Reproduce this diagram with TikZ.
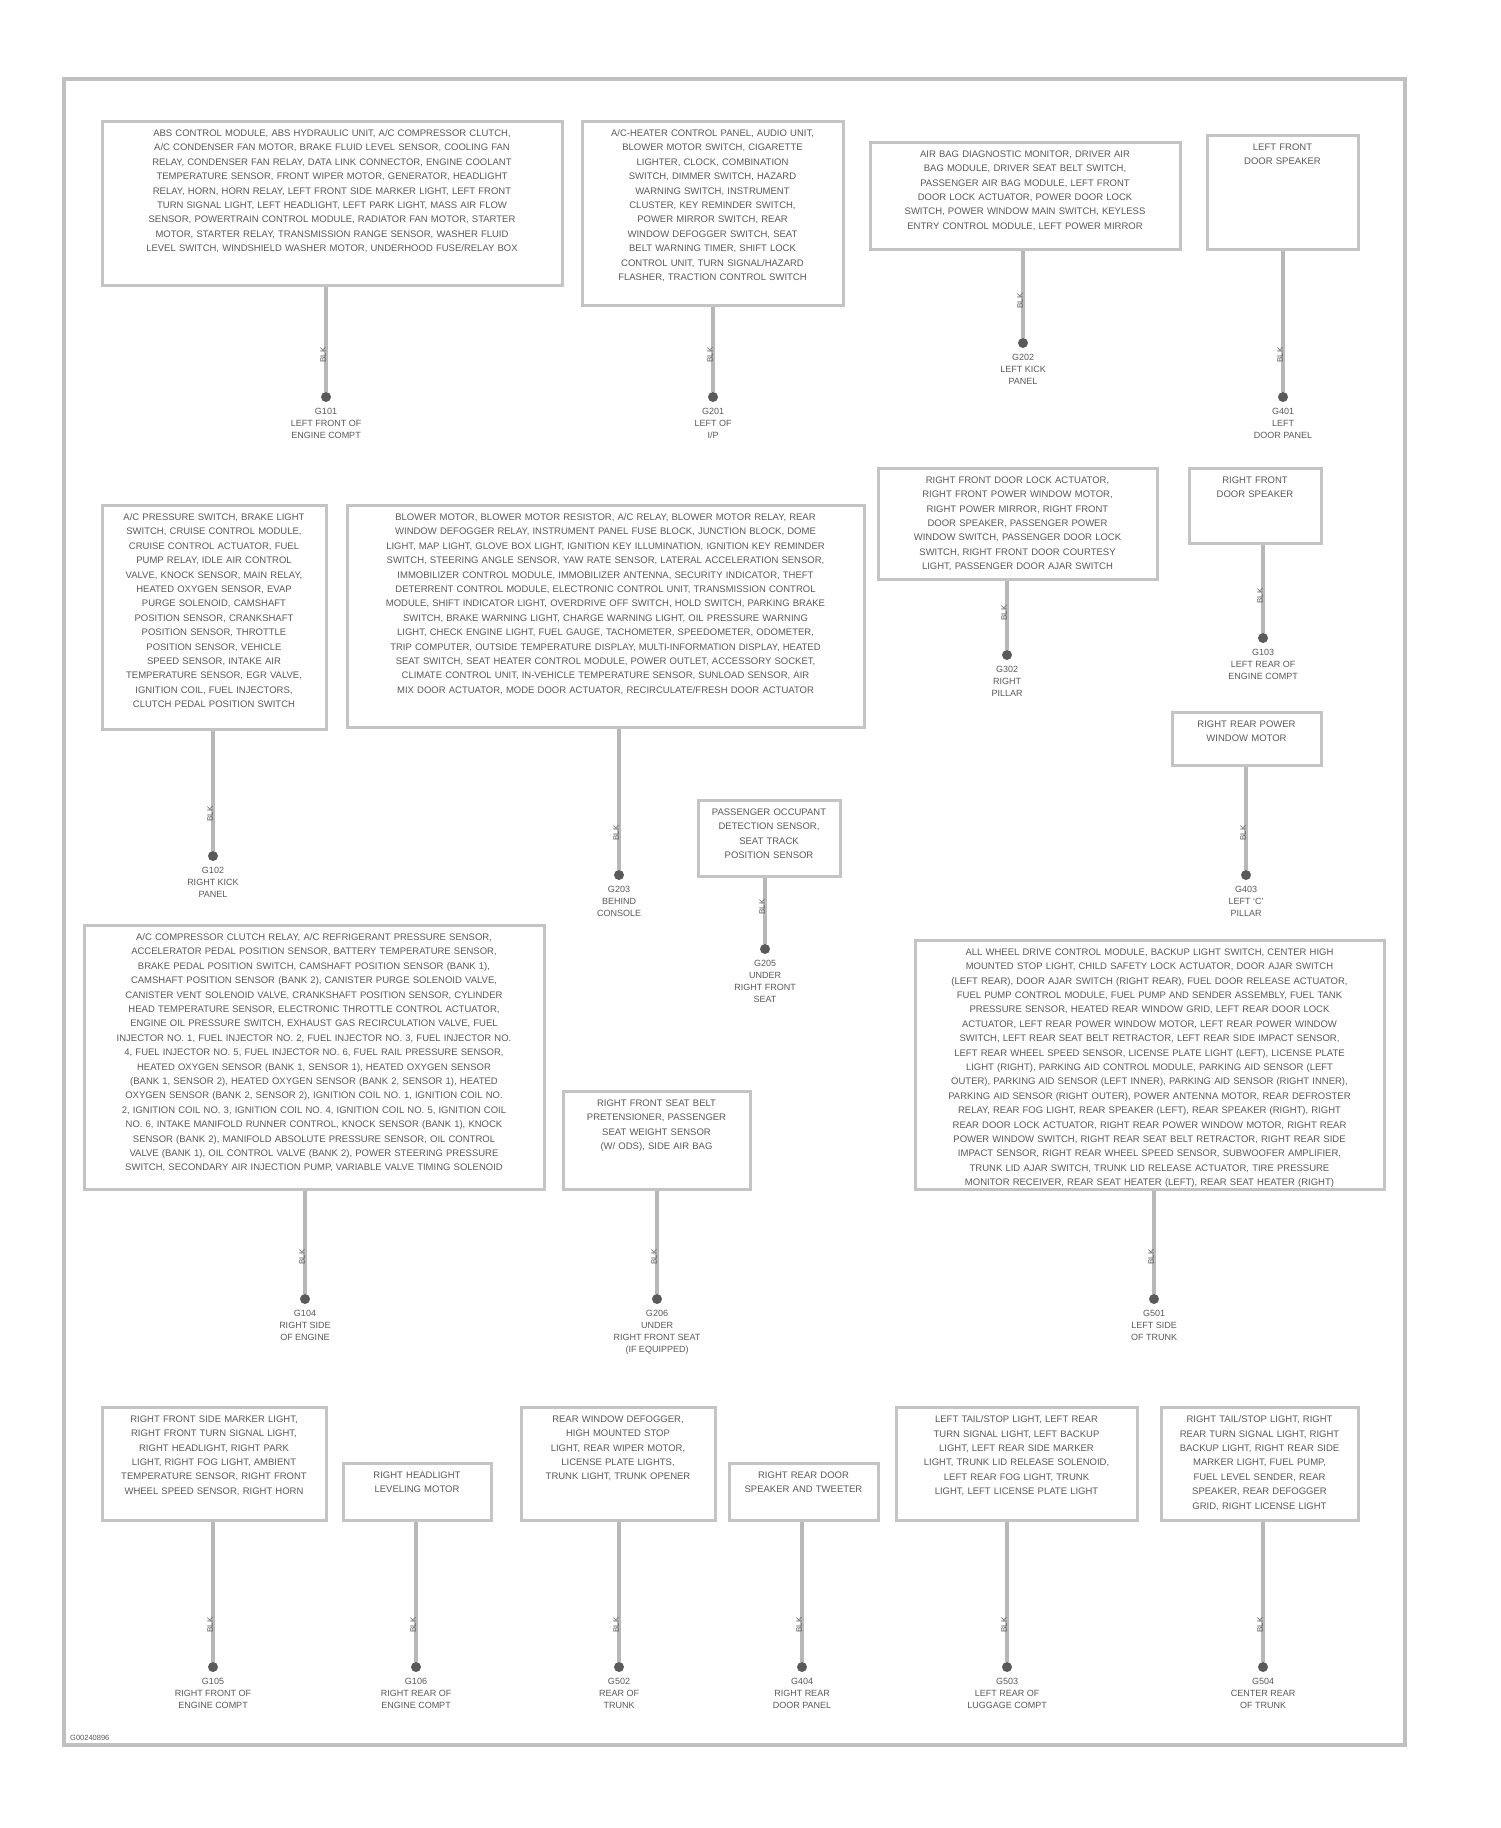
\documentclass[tikz,border=0pt]{standalone}
\usepackage{fontspec}
\setmainfont{Liberation Sans}
\definecolor{boxc}{HTML}{C4C4C4}
\definecolor{txtc}{HTML}{5A5A5A}
\definecolor{wirec}{HTML}{B8B8B8}
\definecolor{dotc}{HTML}{5A5A5A}
\definecolor{framec}{HTML}{C0C0C0}
\tikzset{
  gbox/.style={draw=boxc, line width=3pt, rectangle, inner sep=0pt},
  gtext/.style={anchor=north, align=center, text=txtc, inner sep=0pt, font={\fontsize{9.5}{14.4}\selectfont\hyphenpenalty=10000\exhyphenpenalty=10000}},
  gdot/.style={circle, fill=dotc, draw=none, minimum size=10pt, inner sep=0pt},
  gwire/.style={draw=wirec, line width=3.5pt},
  glabel/.style={anchor=north, align=center, text=txtc, inner sep=0pt, font={\fontsize{9}{11.8}\selectfont}},
  gwlabel/.style={rotate=90, anchor=south, text=txtc, inner sep=1pt, font={\fontsize{8}{9}\selectfont}},
}
\newcommand{\gbox}[7]{%
  \node[gbox, minimum width={(#3-#2)*1pt}, minimum height={(#5-#4)*1pt}] (#1) at ({(#2+#3)/2},{(#4+#5)/2}) {};
  \node[gtext, text width=#6pt] (#1t) at ([yshift=-10pt]#1.north) {#7};}
\newcommand{\gwire}[4]{%
  \node[gdot] (#1d) at (#2,#3) {};
  \draw[gwire] (#1d |- #1.south) -- (#1d);
  \node[gwlabel] (#1w) at (#2+1,#3-42) {BLK};
  \node[glabel] (#1l) at ([yshift=-6pt]#1d.south) {#4};}
\begin{document}
\begin{tikzpicture}[x=1pt,y=-1pt]
\useasboundingbox (0,0) rectangle (1500,1828);
\fill[white] (0,0) rectangle (1500,1828);
\node[draw=framec, line width=4pt, minimum width=1341pt, minimum height=1666pt, inner sep=0pt] (frame) at (734.5,912) {};
\node[anchor=south west, text=txtc, inner sep=0pt, font={\fontsize{7.5}{8}\selectfont}] (code) at ([xshift=8pt,yshift=6pt]frame.south west) {G00240896};

% Row 1
\gbox{b1}{102}{562}{121}{285}{396}{ABS CONTROL MODULE, ABS HYDRAULIC UNIT, A/C COMPRESSOR CLUTCH, A/C CONDENSER FAN MOTOR, BRAKE FLUID LEVEL SENSOR, COOLING FAN RELAY, CONDENSER FAN RELAY, DATA LINK CONNECTOR, ENGINE COOLANT TEMPERATURE SENSOR, FRONT WIPER MOTOR, GENERATOR, HEADLIGHT RELAY, HORN, HORN RELAY, LEFT FRONT SIDE MARKER LIGHT, LEFT FRONT TURN SIGNAL LIGHT, LEFT HEADLIGHT, LEFT PARK LIGHT, MASS AIR FLOW SENSOR, POWERTRAIN CONTROL MODULE, RADIATOR FAN MOTOR, STARTER MOTOR, STARTER RELAY, TRANSMISSION RANGE SENSOR, WASHER FLUID LEVEL SWITCH, WINDSHIELD WASHER MOTOR, UNDERHOOD FUSE/RELAY BOX}
\gwire{b1}{326}{397}{G101\\LEFT FRONT OF\\ENGINE COMPT}
\gbox{b2}{582}{843}{121}{305}{207}{A/C-HEATER CONTROL PANEL, AUDIO UNIT, BLOWER MOTOR SWITCH, CIGARETTE LIGHTER, CLOCK, COMBINATION SWITCH, DIMMER SWITCH, HAZARD WARNING SWITCH, INSTRUMENT CLUSTER, KEY REMINDER SWITCH, POWER MIRROR SWITCH, REAR WINDOW DEFOGGER SWITCH, SEAT BELT WARNING TIMER, SHIFT LOCK CONTROL UNIT, TURN SIGNAL/HAZARD FLASHER, TRACTION CONTROL SWITCH}
\gwire{b2}{713}{397}{G201\\LEFT OF\\I/P}
\gbox{b3}{870}{1180}{142}{249}{261}{AIR BAG DIAGNOSTIC MONITOR, DRIVER AIR BAG MODULE, DRIVER SEAT BELT SWITCH, PASSENGER AIR BAG MODULE, LEFT FRONT DOOR LOCK ACTUATOR, POWER DOOR LOCK SWITCH, POWER WINDOW MAIN SWITCH, KEYLESS ENTRY CONTROL MODULE, LEFT POWER MIRROR}
\gwire{b3}{1023}{343}{G202\\LEFT KICK\\PANEL}
\gbox{b4}{1207}{1358}{135}{249}{95}{LEFT FRONT DOOR SPEAKER}
\gwire{b4}{1283}{397}{G401\\LEFT\\DOOR PANEL}

% Row 2
\gbox{b5}{102}{326}{505}{729}{183}{A/C PRESSURE SWITCH, BRAKE LIGHT SWITCH, CRUISE CONTROL MODULE, CRUISE CONTROL ACTUATOR, FUEL PUMP RELAY, IDLE AIR CONTROL VALVE, KNOCK SENSOR, MAIN RELAY, HEATED OXYGEN SENSOR, EVAP PURGE SOLENOID, CAMSHAFT POSITION SENSOR, CRANKSHAFT POSITION SENSOR, THROTTLE POSITION SENSOR, VEHICLE SPEED SENSOR, INTAKE AIR TEMPERATURE SENSOR, EGR VALVE, IGNITION COIL, FUEL INJECTORS, CLUTCH PEDAL POSITION SWITCH}
\gwire{b5}{213}{856}{G102\\RIGHT KICK\\PANEL}
\gbox{b6}{347}{864}{505}{727}{465}{BLOWER MOTOR, BLOWER MOTOR RESISTOR, A/C RELAY, BLOWER MOTOR RELAY, REAR WINDOW DEFOGGER RELAY, INSTRUMENT PANEL FUSE BLOCK, JUNCTION BLOCK, DOME LIGHT, MAP LIGHT, GLOVE BOX LIGHT, IGNITION KEY ILLUMINATION, IGNITION KEY REMINDER SWITCH, STEERING ANGLE SENSOR, YAW RATE SENSOR, LATERAL ACCELERATION SENSOR, IMMOBILIZER CONTROL MODULE, IMMOBILIZER ANTENNA, SECURITY INDICATOR, THEFT DETERRENT CONTROL MODULE, ELECTRONIC CONTROL UNIT, TRANSMISSION CONTROL MODULE, SHIFT INDICATOR LIGHT, OVERDRIVE OFF SWITCH, HOLD SWITCH, PARKING BRAKE SWITCH, BRAKE WARNING LIGHT, CHARGE WARNING LIGHT, OIL PRESSURE WARNING LIGHT, CHECK ENGINE LIGHT, FUEL GAUGE, TACHOMETER, SPEEDOMETER, ODOMETER, TRIP COMPUTER, OUTSIDE TEMPERATURE DISPLAY, MULTI-INFORMATION DISPLAY, HEATED SEAT SWITCH, SEAT HEATER CONTROL MODULE, POWER OUTLET, ACCESSORY SOCKET, CLIMATE CONTROL UNIT, IN-VEHICLE TEMPERATURE SENSOR, SUNLOAD SENSOR, AIR MIX DOOR ACTUATOR, MODE DOOR ACTUATOR, RECIRCULATE/FRESH DOOR ACTUATOR}
\gwire{b6}{619}{875}{G203\\BEHIND\\CONSOLE}
\gbox{b7}{878}{1157}{468}{579}{233}{RIGHT FRONT DOOR LOCK ACTUATOR, RIGHT FRONT POWER WINDOW MOTOR, RIGHT POWER MIRROR, RIGHT FRONT DOOR SPEAKER, PASSENGER POWER WINDOW SWITCH, PASSENGER DOOR LOCK SWITCH, RIGHT FRONT DOOR COURTESY LIGHT, PASSENGER DOOR AJAR SWITCH}
\gwire{b7}{1007}{655}{G302\\RIGHT\\PILLAR}
\gbox{b8}{1189}{1321}{468}{543}{92}{RIGHT FRONT DOOR SPEAKER}
\gwire{b8}{1263}{638}{G103\\LEFT REAR OF\\ENGINE COMPT}
\gbox{b9}{1172}{1321}{712}{765}{124}{RIGHT REAR POWER WINDOW MOTOR}
\gwire{b9}{1246}{875}{G403\\LEFT `C'\\PILLAR}
\gbox{b10}{698}{840}{800}{876}{128}{PASSENGER OCCUPANT DETECTION SENSOR, SEAT TRACK POSITION SENSOR}
\gwire{b10}{765}{949}{G205\\UNDER\\RIGHT FRONT\\SEAT}

% Row 3
\gbox{b11}{84}{544}{925}{1189}{400}{A/C COMPRESSOR CLUTCH RELAY, A/C REFRIGERANT PRESSURE SENSOR, ACCELERATOR PEDAL POSITION SENSOR, BATTERY TEMPERATURE SENSOR, BRAKE PEDAL POSITION SWITCH, CAMSHAFT POSITION SENSOR (BANK 1), CAMSHAFT POSITION SENSOR (BANK 2), CANISTER PURGE SOLENOID VALVE, CANISTER VENT SOLENOID VALVE, CRANKSHAFT POSITION SENSOR, CYLINDER HEAD TEMPERATURE SENSOR, ELECTRONIC THROTTLE CONTROL ACTUATOR, ENGINE OIL PRESSURE SWITCH, EXHAUST GAS RECIRCULATION VALVE, FUEL INJECTOR NO. 1, FUEL INJECTOR NO. 2, FUEL INJECTOR NO. 3, FUEL INJECTOR NO. 4, FUEL INJECTOR NO. 5, FUEL INJECTOR NO. 6, FUEL RAIL PRESSURE SENSOR, HEATED OXYGEN SENSOR (BANK 1, SENSOR 1), HEATED OXYGEN SENSOR (BANK 1, SENSOR 2), HEATED OXYGEN SENSOR (BANK 2, SENSOR 1), HEATED OXYGEN SENSOR (BANK 2, SENSOR 2), IGNITION COIL NO. 1, IGNITION COIL NO. 2, IGNITION COIL NO. 3, IGNITION COIL NO. 4, IGNITION COIL NO. 5, IGNITION COIL NO. 6, INTAKE MANIFOLD RUNNER CONTROL, KNOCK SENSOR (BANK 1), KNOCK SENSOR (BANK 2), MANIFOLD ABSOLUTE PRESSURE SENSOR, OIL CONTROL VALVE (BANK 1), OIL CONTROL VALVE (BANK 2), POWER STEERING PRESSURE SWITCH, SECONDARY AIR INJECTION PUMP, VARIABLE VALVE TIMING SOLENOID}
\gwire{b11}{305}{1299}{G104\\RIGHT SIDE\\OF ENGINE}
\gbox{b12}{563}{750}{1091}{1189}{150}{RIGHT FRONT SEAT BELT PRETENSIONER, PASSENGER SEAT WEIGHT SENSOR (W/ ODS), SIDE AIR BAG}
\gwire{b12}{657}{1299}{G206\\UNDER\\RIGHT FRONT SEAT\\(IF EQUIPPED)}
\gbox{b13}{915}{1384}{940}{1189}{413}{ALL WHEEL DRIVE CONTROL MODULE, BACKUP LIGHT SWITCH, CENTER HIGH MOUNTED STOP LIGHT, CHILD SAFETY LOCK ACTUATOR, DOOR AJAR SWITCH (LEFT REAR), DOOR AJAR SWITCH (RIGHT REAR), FUEL DOOR RELEASE ACTUATOR, FUEL PUMP CONTROL MODULE, FUEL PUMP AND SENDER ASSEMBLY, FUEL TANK PRESSURE SENSOR, HEATED REAR WINDOW GRID, LEFT REAR DOOR LOCK ACTUATOR, LEFT REAR POWER WINDOW MOTOR, LEFT REAR POWER WINDOW SWITCH, LEFT REAR SEAT BELT RETRACTOR, LEFT REAR SIDE IMPACT SENSOR, LEFT REAR WHEEL SPEED SENSOR, LICENSE PLATE LIGHT (LEFT), LICENSE PLATE LIGHT (RIGHT), PARKING AID CONTROL MODULE, PARKING AID SENSOR (LEFT OUTER), PARKING AID SENSOR (LEFT INNER), PARKING AID SENSOR (RIGHT INNER), PARKING AID SENSOR (RIGHT OUTER), POWER ANTENNA MOTOR, REAR DEFROSTER RELAY, REAR FOG LIGHT, REAR SPEAKER (LEFT), REAR SPEAKER (RIGHT), RIGHT REAR DOOR LOCK ACTUATOR, RIGHT REAR POWER WINDOW MOTOR, RIGHT REAR POWER WINDOW SWITCH, RIGHT REAR SEAT BELT RETRACTOR, RIGHT REAR SIDE IMPACT SENSOR, RIGHT REAR WHEEL SPEED SENSOR, SUBWOOFER AMPLIFIER, TRUNK LID AJAR SWITCH, TRUNK LID RELEASE ACTUATOR, TIRE PRESSURE MONITOR RECEIVER, REAR SEAT HEATER (LEFT), REAR SEAT HEATER (RIGHT)}
\gwire{b13}{1154}{1299}{G501\\LEFT SIDE\\OF TRUNK}

% Row 4
\gbox{b14}{102}{326}{1407}{1520}{189}{RIGHT FRONT SIDE MARKER LIGHT, RIGHT FRONT TURN SIGNAL LIGHT, RIGHT HEADLIGHT, RIGHT PARK LIGHT, RIGHT FOG LIGHT, AMBIENT TEMPERATURE SENSOR, RIGHT FRONT WHEEL SPEED SENSOR, RIGHT HORN}
\gwire{b14}{213}{1667}{G105\\RIGHT FRONT OF\\ENGINE COMPT}
\gbox{b15}{343}{491}{1463}{1520}{125}{RIGHT HEADLIGHT LEVELING MOTOR}
\gwire{b15}{416}{1667}{G106\\RIGHT REAR OF\\ENGINE COMPT}
\gbox{b16}{521}{715}{1407}{1520}{170}{REAR WINDOW DEFOGGER, HIGH MOUNTED STOP LIGHT, REAR WIPER MOTOR, LICENSE PLATE LIGHTS, TRUNK LIGHT, TRUNK OPENER}
\gwire{b16}{619}{1667}{G502\\REAR OF\\TRUNK}
\gbox{b17}{729}{878}{1463}{1520}{123}{RIGHT REAR DOOR SPEAKER AND TWEETER}
\gwire{b17}{802}{1667}{G404\\RIGHT REAR\\DOOR PANEL}
\gbox{b18}{896}{1137}{1407}{1520}{209}{LEFT TAIL/STOP LIGHT, LEFT REAR TURN SIGNAL LIGHT, LEFT BACKUP LIGHT, LEFT REAR SIDE MARKER LIGHT, TRUNK LID RELEASE SOLENOID, LEFT REAR FOG LIGHT, TRUNK LIGHT, LEFT LICENSE PLATE LIGHT}
\gwire{b18}{1007}{1667}{G503\\LEFT REAR OF\\LUGGAGE COMPT}
\gbox{b19}{1161}{1358}{1407}{1520}{178}{RIGHT TAIL/STOP LIGHT, RIGHT REAR TURN SIGNAL LIGHT, RIGHT BACKUP LIGHT, RIGHT REAR SIDE MARKER LIGHT, FUEL PUMP, FUEL LEVEL SENDER, REAR SPEAKER, REAR DEFOGGER GRID, RIGHT LICENSE LIGHT}
\gwire{b19}{1263}{1667}{G504\\CENTER REAR\\OF TRUNK}
\end{tikzpicture}
\end{document}
